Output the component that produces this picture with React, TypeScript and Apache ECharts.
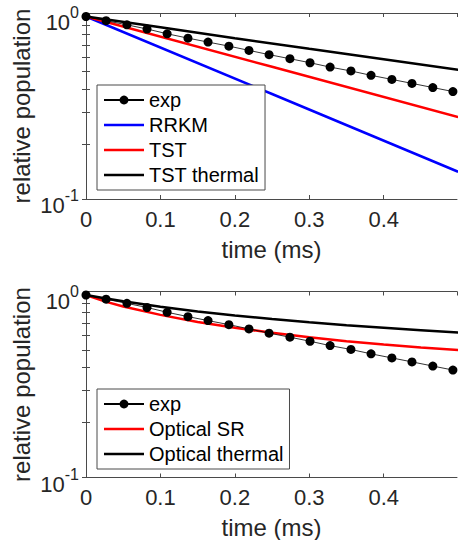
import React, { useEffect, useRef } from 'react';
import * as echarts from 'echarts';

// ---- data ----
const expTime = [0, 0.027, 0.055, 0.082, 0.109, 0.137, 0.164, 0.192, 0.219, 0.246, 0.274, 0.301, 0.328, 0.356, 0.383, 0.411, 0.438, 0.466, 0.493];
const expPop = [1.0, 0.948, 0.9, 0.854, 0.804, 0.761, 0.724, 0.688, 0.652, 0.618, 0.587, 0.558, 0.528, 0.503, 0.476, 0.452, 0.43, 0.408, 0.388];

const rrkmTime = [0, 0.25, 0.5];
const rrkmPop = [1, 0.376, 0.141];
const tstTime = [0, 0.25, 0.5];
const tstPop = [1, 0.53, 0.281];
const tstThermalTime = [0, 0.1, 0.2, 0.3, 0.4, 0.5];
const tstThermalPop = [1, 0.872, 0.76, 0.665, 0.583, 0.511];

const opticalTime = [0, 0.025, 0.05, 0.1, 0.15, 0.2, 0.25, 0.3, 0.35, 0.4, 0.45, 0.5];
const opticalSRPop = [1, 0.923, 0.865, 0.778, 0.711, 0.661, 0.621, 0.586, 0.558, 0.535, 0.515, 0.499];
const opticalThermalPop = [1, 0.959, 0.923, 0.861, 0.813, 0.773, 0.738, 0.708, 0.682, 0.661, 0.641, 0.622];

const yTickValues = [0.1, 0.2, 0.3, 0.4, 0.5, 0.6, 0.7, 0.8, 0.9, 1];

const topLegend = ['exp', 'RRKM', 'TST', 'TST thermal'];
const bottomLegend = ['exp', 'Optical SR', 'Optical thermal'];

const FONT = '"Liberation Sans", Arial, Helvetica, sans-serif';
const TXT = '#262626';
const AX = '#4a4a4a';
const LINE_ICON = 'path://M0,0H40V2.5H0Z';

const pairs = (t: number[], v: number[]) => t.map((x, i) => [x, v[i]]);

function xAxes(grid: number) {
  const base = {
    type: 'value',
    gridIndex: grid,
    min: 0,
    max: 0.4985,
    interval: 0.1,
    splitLine: { show: false },
    axisLine: { show: true, lineStyle: { color: AX, width: 1 } },
    axisTick: { show: true, inside: true, length: 4, lineStyle: { color: AX, width: 1 } },
  };
  return [
    {
      ...base,
      position: 'bottom',
      name: 'time (ms)',
      nameLocation: 'middle',
      nameGap: 38,
      nameMoveOverlap: false,
      nameTextStyle: { fontFamily: FONT, fontSize: 24, color: TXT },
      axisLabel: {
        show: true,
        margin: 9,
        fontFamily: FONT,
        fontSize: 22,
        color: TXT,
        showMaxLabel: false,
        formatter: (v: number) => (v === 0 ? '0' : String(Math.round(v * 10) / 10)),
      },
    },
    { ...base, position: 'top', axisLabel: { show: false } },
  ];
}

function yAxes(grid: number) {
  const base = {
    type: 'log',
    logBase: 10,
    gridIndex: grid,
    min: 0.1,
    max: 1.045,
    splitLine: { show: false },
    minorTick: { show: false },
    axisLine: { show: true, lineStyle: { color: AX, width: 1 } },
    axisTick: { show: true, inside: true, length: 4, customValues: yTickValues, lineStyle: { color: AX, width: 1 } },
  };
  return [
    {
      ...base,
      position: 'left',
      name: 'relative population',
      nameLocation: 'middle',
      nameGap: 53,
      nameMoveOverlap: false,
      nameTextStyle: { fontFamily: FONT, fontSize: 24, color: TXT },
      axisLabel: {
        show: true,
        margin: 7,
        showMaxLabel: false,
        padding: [6, 0, 0, 0],
        formatter: (v: number) => `{b|10}{s|${Math.round(Math.log10(v))}}`,
        rich: {
          b: { fontFamily: FONT, fontSize: 22, color: TXT, lineHeight: 29, verticalAlign: 'bottom' },
          s: { fontFamily: FONT, fontSize: 16, color: TXT, lineHeight: 16, verticalAlign: 'top' },
        },
      },
    },
    { ...base, position: 'right', axisLabel: { show: false } },
  ];
}

const thick = 2.5;

function legendItems(names: string[]) {
  return names.map((n) => (n === 'exp' ? { name: n } : { name: n, icon: LINE_ICON }));
}

export default function App() {
  const ref = useRef<HTMLDivElement>(null);
  useEffect(() => {
    if (!ref.current) return;
    const chart = echarts.init(ref.current, null, { renderer: 'svg' });
    const legendBase = {
      orient: 'vertical',
      left: 97,
      itemWidth: 40,
      itemHeight: 11,
      itemGap: 5,
      padding: [5, 6, 5, 6],
      borderColor: AX,
      borderWidth: 1,
      backgroundColor: '#ffffff',
      borderRadius: 0,
      selectedMode: false,
      textStyle: { fontFamily: FONT, fontSize: 20, color: '#000000' },
    };
    chart.setOption({
      animation: false,
      backgroundColor: '#ffffff',
      grid: [
        { left: 86, top: 13, width: 371, height: 186, outerBoundsMode: 'none' },
        { left: 86, top: 291.5, width: 371, height: 186, outerBoundsMode: 'none' },
      ],
      xAxis: [...xAxes(0), ...xAxes(1)],
      yAxis: [...yAxes(0), ...yAxes(1)],
      legend: [
        { ...legendBase, top: 85, data: legendItems(topLegend) },
        { ...legendBase, top: 389, data: legendItems(bottomLegend) },
      ],
      series: [
        {
          name: 'RRKM', type: 'line', xAxisIndex: 0, yAxisIndex: 0, data: pairs(rrkmTime, rrkmPop),
          symbol: 'none', lineStyle: { color: '#0000ff', width: thick }, itemStyle: { color: '#0000ff' },
        },
        {
          name: 'TST', type: 'line', xAxisIndex: 0, yAxisIndex: 0, data: pairs(tstTime, tstPop),
          symbol: 'none', lineStyle: { color: '#ff0000', width: thick }, itemStyle: { color: '#ff0000' },
        },
        {
          name: 'TST thermal', type: 'line', xAxisIndex: 0, yAxisIndex: 0, data: pairs(tstThermalTime, tstThermalPop),
          symbol: 'none', lineStyle: { color: '#000000', width: thick }, itemStyle: { color: '#000000' },
        },
        {
          name: 'exp', type: 'line', xAxisIndex: 0, yAxisIndex: 0, data: pairs(expTime, expPop), z: 5,
          symbol: 'circle', symbolSize: 9, lineStyle: { color: '#000000', width: 0.8 }, itemStyle: { color: '#000000' },
        },
        {
          name: 'Optical SR', type: 'line', xAxisIndex: 2, yAxisIndex: 2, data: pairs(opticalTime, opticalSRPop),
          symbol: 'none', lineStyle: { color: '#ff0000', width: thick }, itemStyle: { color: '#ff0000' },
        },
        {
          name: 'Optical thermal', type: 'line', xAxisIndex: 2, yAxisIndex: 2, data: pairs(opticalTime, opticalThermalPop),
          symbol: 'none', lineStyle: { color: '#000000', width: thick }, itemStyle: { color: '#000000' },
        },
        {
          name: 'exp', type: 'line', xAxisIndex: 2, yAxisIndex: 2, data: pairs(expTime, expPop), z: 5,
          symbol: 'circle', symbolSize: 9, lineStyle: { color: '#000000', width: 0.8 }, itemStyle: { color: '#000000' },
        },
      ],
    });
    return () => chart.dispose();
  }, []);
  return <div ref={ref} style={{ position: 'fixed', left: 0, top: 0, width: 458, height: 540 }} />;
}
